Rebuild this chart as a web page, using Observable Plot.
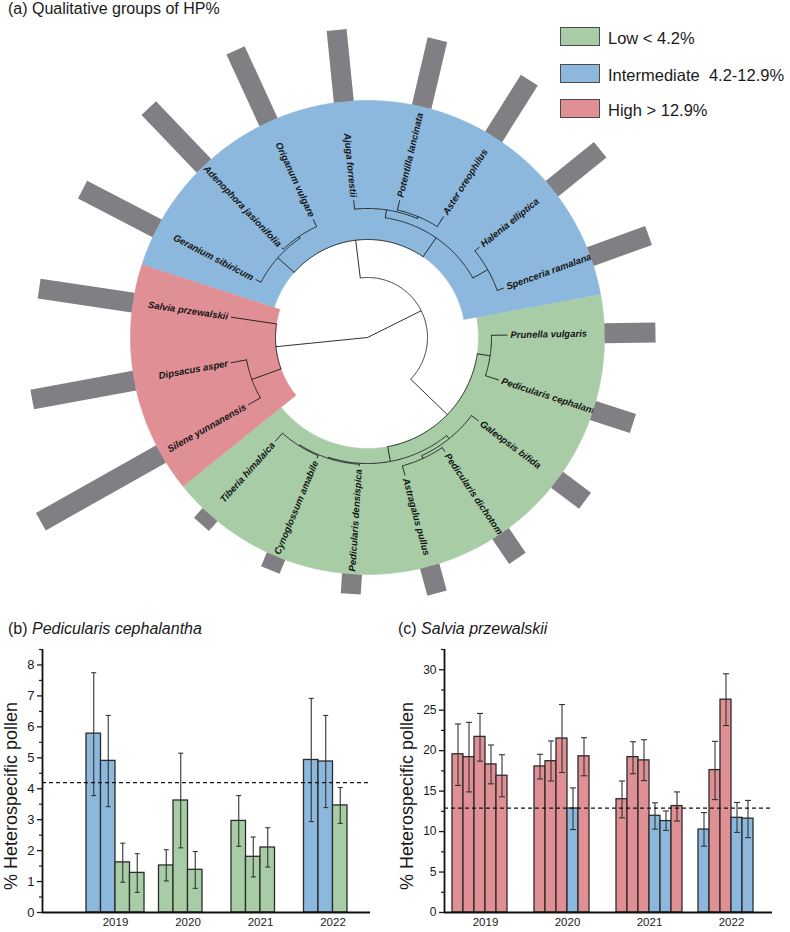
<!DOCTYPE html>
<html><head><meta charset="utf-8">
<script src="https://cdn.jsdelivr.net/npm/d3@7"></script>
<script src="https://cdn.jsdelivr.net/npm/@observablehq/plot@0.6"></script>
<style>
body{margin:0;background:#fff;}
#wrap{position:relative;width:790px;height:932px;font-family:"Liberation Sans",Arial,Helvetica,sans-serif;color:#1a1a1a;overflow:hidden}
.abs{position:absolute}
.title{position:absolute;font-size:16px;line-height:16px;white-space:nowrap;color:#1a1a1a}
.legbox{position:absolute;left:560px;width:38px;height:17px;border:1.5px solid #4a4a4a}
.legtxt{position:absolute;left:608px;font-size:16.5px;line-height:16.5px;white-space:pre;color:#1a1a1a}
.ylab{position:absolute;font-size:18px;line-height:18px;white-space:nowrap;color:#1a1a1a;transform:translate(-50%,-50%) rotate(-90deg)}
</style></head>
<body><div id="wrap">
<div id="pa" class="abs" style="left:0;top:0"></div>
<div class="title" style="left:8px;top:1px">(a) Qualitative groups of HP%</div>
<div id="legend"></div>
<div id="pb" class="abs" style="left:0;top:640px"></div>
<div id="pc" class="abs" style="left:395px;top:640px"></div>
<div class="title" style="left:8px;top:621px">(b) <i>Pedicularis cephalantha</i></div>
<div class="title" style="left:398px;top:621px">(c) <i>Salvia przewalskii</i></div>
<div id="ylb" class="ylab" style="left:11px;top:796px"></div>
<div id="ylc" class="ylab" style="left:407px;top:796px"></div>
</div>
<script>
// ---------------- DATA: panel (a) ----------------
const species = ["Tiberia himalaica","Cynoglossum amabile","Pedicularis densispica","Astragalus pullus","Pedicularis dichotoma","Galeopsis bifida","Pedicularis cephalantha","Prunella vulgaris","Spenceria ramalana","Halenia elliptica","Aster oreophilus","Potentilla lancinata","Ajuga forrestii","Origanum vulgare","Adenophora jasionifolia","Geranium sibiricum","Salvia przewalskii","Dipsacus asper","Silene yunnanensis"];
const hpGroup = ["Low","Low","Low","Low","Low","Low","Low","Low","Intermediate","Intermediate","Intermediate","Intermediate","Intermediate","Intermediate","Intermediate","Intermediate","High","High","High"];
const hpBar = [13,15,20,28,30,35,42,51,62,62,67,69,72,79,80,84,95,104,138];
const tipRadius = [139,131,129,143,138,139,138,140,145,144,143,141,138,130,124,126,138,139,137];
const tipParent = ["CT","CT","G4","DA","DA","G3","PP","PP","HS","HS","PA","PA","B3","AO","AO","B1","red","DS","DS"];
const nodeId     = ["root","A","red","DS","blue","B1","AO","B2","B3","PA","HS","green","PP","G2","G3","DA","G4","CT"];
const nodeParent = [null,"root","root","red","A","blue","B1","blue","B2","B3","B2","A","green","green","G2","G3","G2","G4"];
const nodeRadius = [0,60,92,123,98,120,122,121,129,131,138,111,124,126,130,133,127,128];
const groupNames = ["Low","Intermediate","High"];
const groupLabels = ["Low < 4.2%","Intermediate  4.2-12.9%","High > 12.9%"];
const groupColors = ["#A8CDA6","#8DB8DD","#E08F94"];
const groupNode = ["green","blue","red"];

// ---------------- DATA: panel (b) ----------------
const bYear  = [2019,2019,2019,2019,2020,2020,2020,2021,2021,2021,2022,2022,2022];
const bGroup = ["Intermediate","Intermediate","Low","Low","Low","Low","Low","Low","Low","Low","Intermediate","Intermediate","Low"];
const bMean  = [5.78,4.90,1.62,1.28,1.52,3.62,1.38,2.96,1.80,2.10,4.93,4.88,3.46];
const bLow   = [3.78,3.42,0.98,0.65,1.02,2.09,0.78,2.14,1.15,1.47,2.94,3.39,2.88];
const bHigh  = [7.75,6.37,2.24,1.90,2.03,5.15,1.97,3.78,2.44,2.74,6.92,6.37,4.04];
const bThreshold = 4.2;

// ---------------- DATA: panel (c) ----------------
const cYear  = [2019,2019,2019,2019,2019,2020,2020,2020,2020,2020,2021,2021,2021,2021,2021,2021,2022,2022,2022,2022,2022];
const cGroup = ["High","High","High","High","High","High","High","High","Intermediate","High","High","High","High","Intermediate","Intermediate","High","Intermediate","High","High","Intermediate","Intermediate"];
const cMean  = [19.55,19.2,21.7,18.3,16.9,18.05,18.7,21.5,12.85,19.3,14.0,19.2,18.8,11.95,11.3,13.15,10.25,17.6,26.3,11.7,11.6];
const cLow   = [15.7,14.9,18.7,15.9,14.3,16.5,16.25,17.3,10.25,16.9,11.7,17.15,16.3,10.3,10.15,11.3,8.2,13.95,23.1,9.9,9.25];
const cHigh  = [23.3,23.5,24.6,20.7,19.5,19.55,21.2,25.7,15.4,21.6,16.25,21.1,21.35,13.55,12.55,14.9,12.35,21.15,29.5,13.6,13.85];
const cThreshold = 12.9;

const yLabel = "% Heterospecific pollen";
const FONT = '"Liberation Sans", Arial, Helvetica, sans-serif';
document.getElementById("ylb").textContent = yLabel;
document.getElementById("ylc").textContent = yLabel;

// ---------------- panel (a): circular tree ----------------
const R_OUT = 237, STEP = 360/19, A0 = 1, ZERO_INDEX = 7;
const toRad = a => a*Math.PI/180;
const polar = (r,a) => [r*Math.cos(toRad(a)), r*Math.sin(toRad(a))];
const tipAngle = i => A0 + (i - ZERO_INDEX)*STEP;

const nodes = new Map();
nodeId.forEach((id,k)=>nodes.set(id,{id, parent: nodeParent[k], r: nodeRadius[k], children: []}));
nodes.forEach(n=>{ if(n.parent) nodes.get(n.parent).children.push(n); });
species.forEach((s,i)=>nodes.get(tipParent[i]).children.push({id:s, tip:true, r: tipRadius[i], a: tipAngle(i), parent: tipParent[i]}));
function layout(n){ if(n.tip) return n.a; const as=n.children.map(layout); n.amin=Math.min(...as); n.amax=Math.max(...as); n.a=(n.amin+n.amax)/2; return n.a; }
const root = nodes.get("root"); layout(root);
const all=[]; (function walk(n){ all.push(n); (n.children||[]).forEach(walk); })(root);

const arcPts=[];
all.filter(n=>!n.tip && n.r>0).forEach(n=>{
  const k=Math.max(2,Math.ceil((n.amax-n.amin)/0.5));
  for(let s=0;s<=k;s++){ const a=n.amin+(n.amax-n.amin)*s/k; const [x,y]=polar(n.r,a); arcPts.push({id:n.id,x,y}); }
});
const radials = all.filter(n=>n.parent).map(n=>{
  const pr=nodes.get(n.parent).r; const [x1,y1]=polar(pr,n.a); const [x2,y2]=polar(n.r,n.a); return {x1,y1,x2,y2};
});

const sectorMarks = groupNames.map((g,gi)=>{
  const idx = species.map((s,i)=>i).filter(i=>hpGroup[i]===g);
  const a0 = tipAngle(d3.min(idx)) - STEP/2, a1 = tipAngle(d3.max(idx)) + STEP/2;
  const rin = nodes.get(groupNode[gi]).r;
  const pts=[]; const k=Math.ceil((a1-a0)/0.5);
  for(let s=0;s<=k;s++){ const a=a0+(a1-a0)*s/k; const [x,y]=polar(R_OUT,a); pts.push({x,y}); }
  for(let s=k;s>=0;s--){ const a=a0+(a1-a0)*s/k; const [x,y]=polar(rin,a); pts.push({x,y}); }
  return Plot.line(pts,{x:"x",y:"y",fill:groupColors[gi],stroke:groupColors[gi],strokeWidth:0.6});
});

const labelRows = species.map((s,i)=>{
  const a=tipAngle(i); const an=((a%360)+360)%360; const right = an<90||an>270;
  const [x,y]=polar(tipRadius[i]+3,a);
  return {x,y,text:s,rotate: right ? -a : 180-a, right};
});
const barRows = species.map((s,i)=>{
  const a=tipAngle(i); const [x1,y1]=polar(R_OUT,a); const [x2,y2]=polar(R_OUT+hpBar[i],a); return {x1,y1,x2,y2};
});

const pa = Plot.plot({
  width: 790, height: 610, margin: 0,
  x: {domain: [-367, 423], axis: null},
  y: {domain: [-273, 337], axis: null},
  style: {fontFamily: FONT, background: "transparent", overflow: "visible"},
  marks: [
    ...sectorMarks,
    Plot.line(arcPts, {x:"x", y:"y", z:"id", stroke:"#1a1a1a", strokeWidth:0.9}),
    Plot.link(radials, {x1:"x1", y1:"y1", x2:"x2", y2:"y2", stroke:"#1a1a1a", strokeWidth:0.9}),
    Plot.text(labelRows.filter(d=>d.right), {x:"x", y:"y", text:"text", rotate:"rotate", textAnchor:"start", fontSize:9.5, fontWeight:"bold", fontStyle:"italic", fill:"#151515"}),
    Plot.text(labelRows.filter(d=>!d.right), {x:"x", y:"y", text:"text", rotate:"rotate", textAnchor:"end", fontSize:9.5, fontWeight:"bold", fontStyle:"italic", fill:"#151515"}),
    Plot.link(barRows, {x1:"x1", y1:"y1", x2:"x2", y2:"y2", stroke:"#808084", strokeWidth:20, strokeLinecap:"butt"})
  ]
});
document.getElementById("pa").appendChild(pa);

// legend
const legTops = [27, 64, 98.5];
const legend = document.getElementById("legend");
groupLabels.forEach((t,i)=>{
  const b=document.createElement("div"); b.className="legbox"; b.style.top=legTops[i]+"px"; b.style.background=groupColors[i]; legend.appendChild(b);
  const s=document.createElement("div"); s.className="legtxt"; s.style.top=(legTops[i]+3)+"px"; s.textContent=t; legend.appendChild(s);
});

// ---------------- bar panels ----------------
function barPanel(cfg){
  const yearsU=[...new Set(cfg.years)];
  const counters=new Map();
  const rows=cfg.means.map((m,i)=>{
    const yr=cfg.years[i]; const k=yearsU.indexOf(yr); const j=counters.get(yr)??0; counters.set(yr,j+1);
    const x1=k*cfg.yearSpacing+j;
    return {year:yr, group:cfg.groups[i], mean:m, lo:cfg.lows[i], hi:cfg.highs[i], zero:0, x1, x2:x1+1, xc:x1+0.5};
  });
  const yearPos=yearsU.map((y,k)=>k*cfg.yearSpacing+cfg.maxBars/2);
  const yearMap=new Map(yearPos.map((p,k)=>[p,String(yearsU[k])]));
  const cap=cfg.capPx/cfg.slotPx;
  const xDomain=[(cfg.axisLeft-cfg.firstBar)/cfg.slotPx,(cfg.axisRight-cfg.firstBar)/cfg.slotPx];
  return Plot.plot({
    width:cfg.width, height:cfg.height,
    marginLeft:cfg.axisLeft, marginRight:cfg.width-cfg.axisRight, marginTop:cfg.marginTop, marginBottom:cfg.marginBottom,
    x:{domain:xDomain, axis:null},
    y:{domain:[0,cfg.yMax], axis:null},
    color:{domain:groupNames, range:groupColors},
    style:{fontFamily:FONT, color:"#1a1a1a", background:"transparent", overflow:"visible"},
    marks:[
      Plot.rect(rows,{x1:"x1",x2:"x2",y1:"zero",y2:"mean",fill:"group",stroke:"#2b2b2b",strokeWidth:1.3}),
      Plot.link(rows,{x1:"xc",x2:"xc",y1:"lo",y2:"hi",stroke:"#333",strokeWidth:1.1}),
      Plot.link(rows,{x1:d=>d.xc-cap,x2:d=>d.xc+cap,y1:"hi",y2:"hi",stroke:"#333",strokeWidth:1.1}),
      Plot.link(rows,{x1:d=>d.xc-cap,x2:d=>d.xc+cap,y1:"lo",y2:"lo",stroke:"#333",strokeWidth:1.1}),
      Plot.ruleY([cfg.threshold],{stroke:"#111",strokeDasharray:"4,3",strokeWidth:1.3}),
      Plot.ruleY([0],{stroke:"#111",strokeWidth:1.8}),
      Plot.ruleX([xDomain[0]],{stroke:"#111",strokeWidth:1.8}),
      Plot.axisY({ticks:cfg.yTicks, tickSize:5, tickPadding:3, fontSize:cfg.tickFont, label:null, tickFormat:d=>String(d), strokeWidth:1.3}),
      Plot.axisY({ticks:cfg.yMinor, tickSize:3, label:null, tickFormat:()=>"", strokeWidth:1.2}),
      Plot.axisX({ticks:yearPos, tickSize:0, tickPadding:5, fontSize:11.5, label:null, tickFormat:d=>yearMap.get(d)})
    ]
  });
}

document.getElementById("pb").appendChild(barPanel({
  years:bYear, groups:bGroup, means:bMean, lows:bLow, highs:bHigh, threshold:bThreshold,
  width:395, height:292, marginTop:9, marginBottom:20, axisLeft:42, axisRight:370, firstBar:86, slotPx:14.5,
  yearSpacing:5, maxBars:4, yMax:8.5, yTicks:d3.range(0,9,1), yMinor:d3.range(0.5,8.6,1),
  tickFont:13, capPx:2.5
}));
document.getElementById("pc").appendChild(barPanel({
  years:cYear, groups:cGroup, means:cMean, lows:cLow, highs:cHigh, threshold:cThreshold,
  width:395, height:292, marginTop:9, marginBottom:20, axisLeft:49, axisRight:377, firstBar:57, slotPx:11,
  yearSpacing:82/11, maxBars:6, yMax:32.5, yTicks:d3.range(0,31,5), yMinor:d3.range(2.5,33,5),
  tickFont:12, capPx:3
}));
</script>
</body></html>
